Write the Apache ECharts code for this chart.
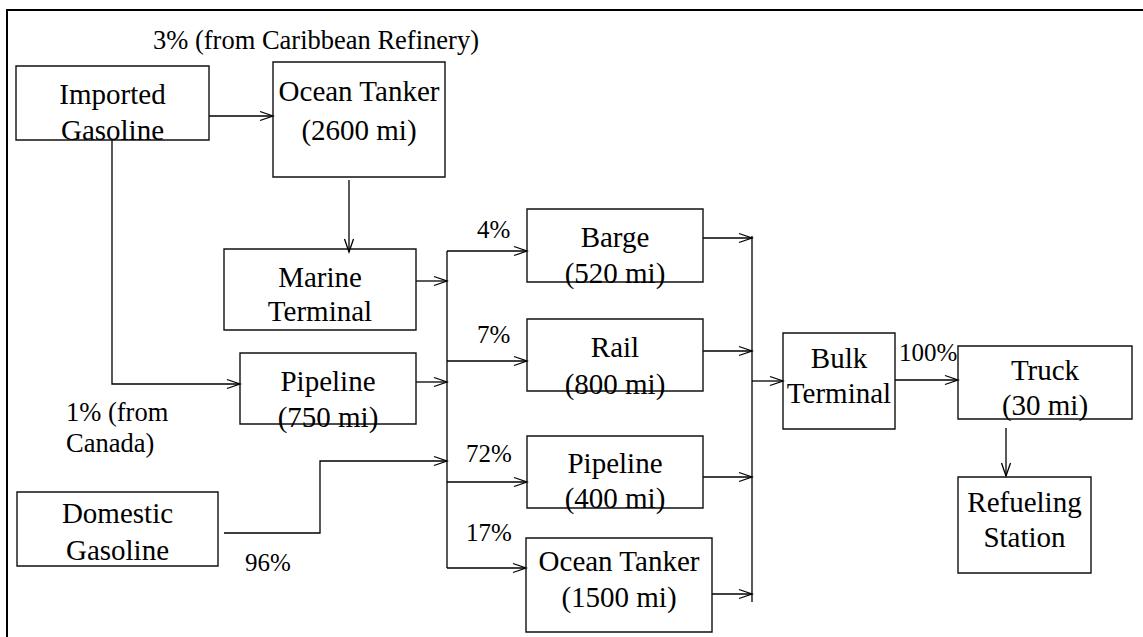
<!DOCTYPE html>
<html>
<head>
<meta charset="utf-8">
<script src="https://cdn.jsdelivr.net/npm/echarts@6/dist/echarts.min.js"></script>
<style>
html, body { margin: 0; padding: 0; background: #fff; }
#main { width: 1143px; height: 637px; }
</style>
</head>
<body>
<div id="main"></div>
<script>
// boxes of the flow diagram, in diagram units (x right, y down)
var boxNames = ['Imported Gasoline', 'Ocean Tanker (2600 mi)', 'Marine Terminal', 'Pipeline (750 mi)',
    'Domestic Gasoline', 'Barge (520 mi)', 'Rail (800 mi)', 'Pipeline (400 mi)', 'Ocean Tanker (1500 mi)',
    'Bulk Terminal', 'Truck (30 mi)', 'Refueling Station']
var boxLines = [['Imported', 'Gasoline'], ['Ocean Tanker', '(2600 mi)'], ['Marine', 'Terminal'], ['Pipeline', '(750 mi)'],
    ['Domestic', 'Gasoline'], ['Barge', '(520 mi)'], ['Rail', '(800 mi)'], ['Pipeline', '(400 mi)'], ['Ocean Tanker', '(1500 mi)'],
    ['Bulk', 'Terminal'], ['Truck', '(30 mi)'], ['Refueling', 'Station']]
// [x0, y0, x1, y1, y of line 1, y of line 2]
var boxRects = [
    [16, 66, 209, 140, 94, 130],
    [273, 62, 445, 177, 91, 130],
    [224, 249, 416, 330, 277, 311],
    [240, 353, 416, 424, 381, 417],
    [17, 492, 218, 566, 513, 550],
    [527, 209, 703, 282, 237, 273],
    [527, 319, 703, 391, 347, 384],
    [527, 436, 703, 508, 463, 498],
    [526, 538, 712, 632, 561, 597],
    [783, 333, 895, 429, 358, 393],
    [958, 346, 1132, 419, 370, 405],
    [958, 477, 1091, 573, 502, 537]
]

// connectors: list of points; flowArrow = arrow head at the end
var flowPaths = [
    [[209, 116], [273, 116]],
    [[349, 180], [349, 252]],
    [[112, 140], [112, 384], [240, 384]],
    [[416, 281], [447, 281]],
    [[416, 382], [447, 382]],
    [[224, 533], [320, 533], [320, 461], [447, 461]],
    [[447, 251], [447, 568]],
    [[447, 251], [527, 251]],
    [[447, 361], [527, 361]],
    [[447, 482], [527, 482]],
    [[447, 568], [526, 568]],
    [[703, 238], [752, 238]],
    [[703, 351], [752, 351]],
    [[703, 477], [752, 477]],
    [[712, 594], [752, 594]],
    [[752, 236], [752, 602]],
    [[752, 381], [783, 381]],
    [[895, 380], [958, 380]],
    [[1006, 428], [1006, 476]]
]
var flowArrow = [1, 1, 1, 1, 1, 1, 0, 1, 1, 1, 1, 1, 1, 1, 1, 0, 1, 1, 1]

// share labels
var labelText = ['3% (from Caribbean Refinery)', '4%', '7%', '72%', '17%', '1% (from', 'Canada)', '96%', '100%']
var labelPos = [[153, 40], [477, 229], [477, 334], [466, 453], [466, 532], [66, 412], [66, 443], [245, 562], [899, 352]]

var myChart = echarts.init(document.getElementById('main'), null, { renderer: 'svg' })

var boxFont = '29px "Liberation Serif", "Times New Roman", serif'
var labelFont = '25px "Liberation Serif", "Times New Roman", serif'
var noteFont = '26.5px "Liberation Serif", "Times New Roman", serif'

var option = {
    animation: false,
    backgroundColor: '#fff',
    grid: { left: 0, right: 0, top: 0, bottom: 0 },
    xAxis: { type: 'value', min: 0, max: 1143, show: false },
    yAxis: { type: 'value', min: 0, max: 637, inverse: true, show: false },
    graphic: [{
        type: 'polyline',
        shape: { points: [[1143, 10], [7, 10], [7, 637]] },
        style: { stroke: '#000', lineWidth: 2, fill: null }
    }],
    series: [
        {
            // connectors with open arrow heads
            type: 'custom',
            name: 'flows',
            data: flowPaths.map(function (p, i) { return [p[0][0], p[0][1], i] }),
            renderItem: function (params, api) {
                var path = flowPaths[params.dataIndex]
                var pts = path.map(function (p) { return api.coord(p) })
                var children = [{
                    type: 'polyline',
                    shape: { points: pts },
                    style: { stroke: '#000', lineWidth: 1.3, fill: null }
                }]
                if (flowArrow[params.dataIndex]) {
                    var a = pts[pts.length - 2], b = pts[pts.length - 1]
                    var dx = b[0] - a[0], dy = b[1] - a[1]
                    var len = Math.sqrt(dx * dx + dy * dy)
                    var ux = dx / len, uy = dy / len
                    var hl = 13, hw = 4.5
                    children.push({
                        type: 'polyline',
                        shape: { points: [
                            [b[0] - ux * hl - uy * hw, b[1] - uy * hl + ux * hw],
                            b,
                            [b[0] - ux * hl + uy * hw, b[1] - uy * hl - ux * hw]
                        ] },
                        style: { stroke: '#000', lineWidth: 1.3, fill: null }
                    })
                }
                return { type: 'group', children: children }
            },
            z: 2
        },
        {
            // boxes
            type: 'custom',
            name: 'boxes',
            data: boxRects,
            renderItem: function (params, api) {
                var p0 = api.coord([api.value(0), api.value(1)])
                var p1 = api.coord([api.value(2), api.value(3)])
                var cx = (p0[0] + p1[0]) / 2
                var lines = boxLines[params.dataIndex]
                return {
                    type: 'group',
                    children: [{
                        type: 'rect',
                        shape: { x: p0[0], y: p0[1], width: p1[0] - p0[0], height: p1[1] - p0[1] },
                        style: { stroke: '#111', lineWidth: 1.4, fill: 'rgba(0,0,0,0)' }
                    }, {
                        type: 'text',
                        style: { x: cx, y: api.coord([0, api.value(4)])[1], text: lines[0], font: boxFont,
                            fill: '#000', textAlign: 'center', textVerticalAlign: 'middle' }
                    }, {
                        type: 'text',
                        style: { x: cx, y: api.coord([0, api.value(5)])[1], text: lines[1], font: boxFont,
                            fill: '#000', textAlign: 'center', textVerticalAlign: 'middle' }
                    }]
                }
            },
            z: 3
        },
        {
            // percentage labels
            type: 'custom',
            name: 'labels',
            data: labelPos,
            renderItem: function (params, api) {
                var p = api.coord([api.value(0), api.value(1)])
                var txt = labelText[params.dataIndex]
                return {
                    type: 'text',
                    style: { x: p[0], y: p[1], text: txt, font: txt.length > 4 ? noteFont : labelFont,
                        fill: '#000', textAlign: 'left', textVerticalAlign: 'middle' }
                }
            },
            z: 4
        }
    ]
}

myChart.setOption(option)
</script>
</body>
</html>
